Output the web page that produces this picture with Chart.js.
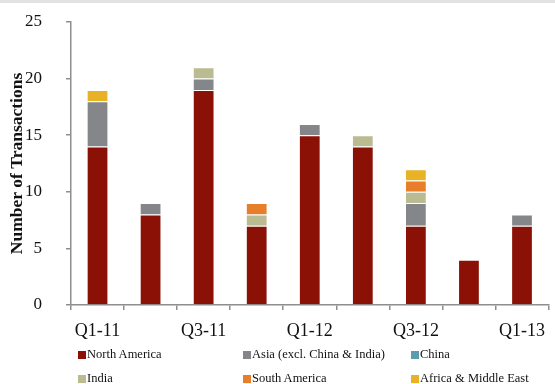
<!DOCTYPE html>
<html>
<head>
<meta charset="utf-8">
<script src="https://cdn.jsdelivr.net/npm/chart.js@4.4.1/dist/chart.umd.min.js"></script>
<style>
  html, body { margin: 0; padding: 0; background: #fff; }
  #wrap { position: relative; width: 555px; height: 384px; overflow: hidden; }
  #topline { position: absolute; left: 0; top: 0; width: 555px; height: 3px; background: #e2e2e2; }
  #legend { position: absolute; left: 0; top: 0; width: 555px; height: 384px; pointer-events: none;
            font-family: "Liberation Serif", "Times New Roman", serif; font-size: 12.5px; color: #111; }
  .item { position: absolute; white-space: nowrap; line-height: 12px; }
  .box { display: inline-block; width: 8px; height: 8px; margin-right: 1px; vertical-align: -1px; }
</style>
</head>
<body>
<div id="wrap">
  <canvas id="txChart" width="555" height="384"></canvas>
  <div id="topline"></div>
  <div id="legend"></div>
</div>
<script>
var quarters = ['Q1-11', 'Q2-11', 'Q3-11', 'Q4-11', 'Q1-12', 'Q2-12', 'Q3-12', 'Q4-12', 'Q1-13'];

var northAmerica = [14, 8, 19, 7, 15, 14, 7, 4, 7];
var asiaExcl     = [4, 1, 1, 0, 1, 0, 2, 0, 1];
var china        = [0, 0, 0, 0, 0, 0, 0, 0, 0];
var india        = [0, 0, 1, 1, 0, 1, 1, 0, 0];
var southAmerica = [0, 0, 0, 1, 0, 0, 1, 0, 0];
var africaME     = [1, 0, 0, 0, 0, 0, 1, 0, 0];

var yTicks = [0, 5, 10, 15, 20, 25];

var axisGray = '#8e8e8e';
var serif = '"Liberation Serif", "Times New Roman", serif';

function series(label, data, color) {
    return {
        label: label,
        data: data,
        backgroundColor: color,
        borderColor: 'rgba(255,255,255,0.55)',
        borderWidth: 1,
        barPercentage: 0.41,
        categoryPercentage: 1.0
    };
}

var ctx = document.getElementById('txChart').getContext('2d');

var chart = new Chart(ctx, {
    type: 'bar',
    data: {
        labels: quarters,
        datasets: [
            series('North America', northAmerica, '#8b1006'),
            series('Asia (excl. China & India)', asiaExcl, '#858689'),
            series('China', china, '#5b9dac'),
            series('India', india, '#bbbb91'),
            series('South America', southAmerica, '#e67e2a'),
            series('Africa & Middle East', africaME, '#e8b227')
        ]
    },
    options: {
        responsive: false,
        animation: false,
        layout: { padding: { top: 22, right: 0, bottom: 0, left: 0 } },
        plugins: {
            legend: { display: false },
            tooltip: { enabled: false }
        },
        scales: {
            x: {
                stacked: true,
                grid: {
                    offset: true,
                    drawOnChartArea: false,
                    tickLength: 5,
                    color: axisGray,
                    lineWidth: 1.5
                },
                border: { color: axisGray, width: 1.5 },
                ticks: {
                    autoSkip: false,
                    maxRotation: 0,
                    padding: 10,
                    color: '#111',
                    font: { family: serif, size: 18 },
                    callback: function (value, index) {
                        return index % 2 === 0 ? quarters[index] : '';
                    }
                },
                afterFit: function (scale) { scale.height = 79; }
            },
            y: {
                stacked: true,
                min: 0,
                max: 25,
                afterBuildTicks: function (scale) {
                    scale.ticks = yTicks.map(function (v) { return { value: v }; });
                },
                grid: {
                    drawOnChartArea: false,
                    tickLength: 5,
                    color: axisGray,
                    lineWidth: 1.5
                },
                border: { color: axisGray, width: 1.5 },
                ticks: {
                    padding: 24,
                    color: '#111',
                    font: { family: serif, size: 17 }
                },
                title: {
                    display: true,
                    text: 'Number of Transactions',
                    color: '#111',
                    padding: { top: 7, bottom: 0 },
                    font: { family: serif, size: 17.5, weight: 'bold' }
                },
                afterFit: function (scale) {
                    // fixed axis width; the wide label gap should not push the plot down
                    scale.width = 71;
                    scale.paddingTop = 0;
                    scale.paddingBottom = 0;
                }
            }
        }
    }
});

// legend laid out in a 3 x 2 grid under the axis
var legendCols = [78, 243, 411];
var legendRows = [348, 372];
var legendEl = document.getElementById('legend');
chart.data.datasets.forEach(function (ds, i) {
    var item = document.createElement('div');
    item.className = 'item';
    item.style.left = legendCols[i % 3] + 'px';
    item.style.top = legendRows[Math.floor(i / 3)] + 'px';
    var box = document.createElement('span');
    box.className = 'box';
    box.style.background = ds.backgroundColor;
    item.appendChild(box);
    item.appendChild(document.createTextNode(ds.label));
    legendEl.appendChild(item);
});
</script>
</body>
</html>
